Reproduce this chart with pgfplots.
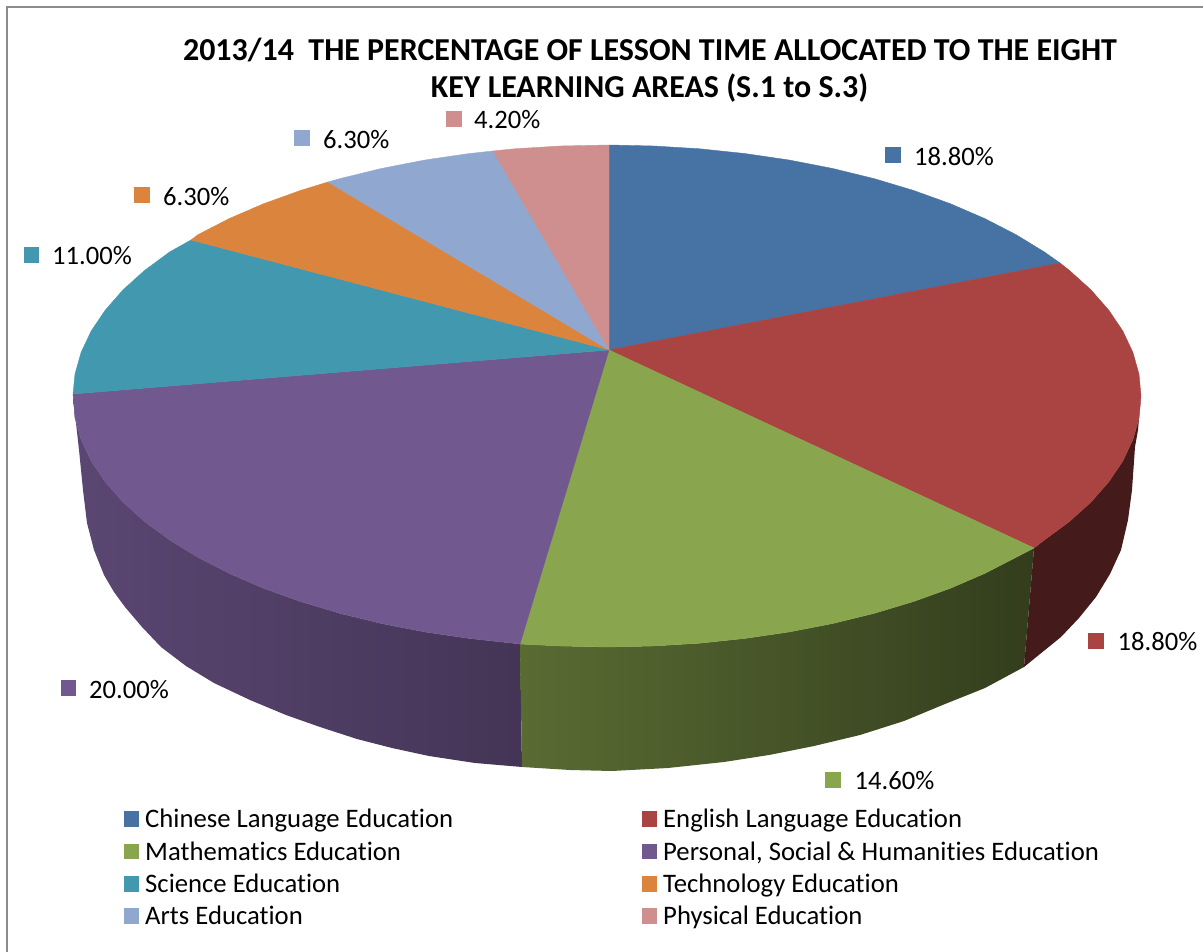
\documentclass[border=0pt]{standalone}
\usepackage{pgfplots}
\pgfplotsset{compat=1.18}
\usepackage{fontspec}
\setmainfont[Ligatures=NoCommon]{Carlito}

\definecolor{cblue}{HTML}{4672A4}
\definecolor{cred}{HTML}{A94442}
\definecolor{cgreen}{HTML}{89A54E}
\definecolor{cpurple}{HTML}{71588F}
\definecolor{cteal}{HTML}{4198AF}
\definecolor{corange}{HTML}{DB843D}
\definecolor{carts}{HTML}{90A8CF}
\definecolor{cpink}{HTML}{CF8F8E}

\newcommand{\slicefont}{\fontsize{26.6}{26.6}\selectfont}
\newcommand{\legfont}{\fontsize{26.7}{26.7}\selectfont}

\pgfplotsset{
	slice/.style={draw=#1,fill=#1,line width=0.4pt},
	swatch/.style={only marks,color=#1,mark=square*,mark size=7.2pt,mark options={solid,line width=0pt,draw=#1,fill=#1}},
}

\begin{document}
\begin{tikzpicture}
	\begin{axis}[
		scale only axis,
		width=1203pt,height=952pt,
		xmin=0,xmax=1203,
		ymin=0,ymax=952,
		y dir=reverse,
		hide axis,
		clip=true,
		]

		% frame
		\addplot[color=black!45,line width=2pt] coordinates {(7,952) (7,7) (1203,7)};

		% sides of the pie
		\addplot[draw=none,left color=cpurple!80!black,right color=cpurple!60!black] coordinates {
			(73,396) (75,417.9) (81.1,439.6) (91.2,461) (105.2,481.8) (123,502.1) (144.5,521.5) (169.6,540) (197.9,557.3) (229.4,573.5) (263.7,588.3) (300.7,601.6) (340,613.4) (381.3,623.5) (424.4,631.9) (468.8,638.4) (520,644)
			(522,767) (475,763) (429,756) (392,748) (357,739) (320,727) (286,715) (250,700) (214,683) (186,666) (161,647) (142,627) (125,607) (114,592) (104,575) (94,550) (87,523) (83,490) (79,450)
		} --cycle;
		\addplot[draw=none,left color=cgreen!65!black,middle color=cgreen!37!black,right color=cgreen!37!black] coordinates {
			(520,644) (560.4,646) (607,647) (653.6,646) (699.7,643.2) (745.2,638.4) (789.6,631.9) (832.7,623.5) (874,613.4) (913.3,601.6) (950.3,588.3) (984.6,573.5) (1016.1,557.3) (1034,548)
			(1024,667) (985,688) (945,704) (904,721) (860,735) (814,746) (769,755) (724,762) (668,768) (612,771) (570,770) (522,767)
		} --cycle;
		\addplot[draw=none,fill=cred!40!black] coordinates {
			(1034,548) (1044.4,540) (1069.5,521.5) (1091,502.1) (1108.8,481.8) (1122.8,461) (1132.9,439.6) (1139,417.9) (1141,396)
			(1138,430) (1135,447) (1132,490) (1128,520) (1121,550) (1110,574) (1096,597) (1079,618) (1061,637) (1024,667)
		} --cycle;

		% top of the pie
		\addplot[slice=cblue] coordinates {(609,350) (609,145) (653.6,146) (699.7,148.8) (745.2,153.6) (789.6,160.1) (832.7,168.5) (874,178.6) (913.3,190.4) (950.3,203.7) (984.6,218.5) (1016.1,234.7) (1044.4,252) (1060,263)} --cycle;
		\addplot[slice=cred] coordinates {(609,350) (1060,263) (1069.5,270.5) (1091,289.9) (1108.8,310.2) (1122.8,331) (1132.9,352.4) (1139,374.1) (1141,396) (1139,417.9) (1132.9,439.6) (1122.8,461) (1108.8,481.8) (1091,502.1) (1069.5,521.5) (1044.4,540) (1034,548)} --cycle;
		\addplot[slice=cgreen] coordinates {(609,350) (1034,548) (1016.1,557.3) (984.6,573.5) (950.3,588.3) (913.3,601.6) (874,613.4) (832.7,623.5) (789.6,631.9) (745.2,638.4) (699.7,643.2) (653.6,646) (607,647) (560.4,646) (520,644)} --cycle;
		\addplot[slice=cpurple] coordinates {(609,350) (520,644) (468.8,638.4) (424.4,631.9) (381.3,623.5) (340,613.4) (300.7,601.6) (263.7,588.3) (229.4,573.5) (197.9,557.3) (169.6,540) (144.5,521.5) (123,502.1) (105.2,481.8) (91.2,461) (81.1,439.6) (75,417.9) (73,394)} --cycle;
		\addplot[slice=cteal] coordinates {(609,350) (73,394) (75,374.1) (81.1,352.4) (91.2,331) (105.2,310.2) (123,289.9) (144.5,270.5) (169.6,252) (191,240)} --cycle;
		\addplot[slice=corange] coordinates {(609,350) (191,240) (197.9,234.7) (229.4,218.5) (263.7,203.7) (300.7,190.4) (328,182)} --cycle;
		\addplot[slice=carts] coordinates {(609,350) (328,182) (340,178.6) (381.3,168.5) (424.4,160.1) (468.8,153.6) (493,151)} --cycle;
		\addplot[slice=cpink] coordinates {(609,350) (493,151) (514.3,148.8) (560.4,146) (609,145)} --cycle;

		% data label keys
		\addplot[swatch=cblue] coordinates {(893,155)};
		\addplot[swatch=cred] coordinates {(1096,641)};
		\addplot[swatch=cgreen] coordinates {(833,780)};
		\addplot[swatch=cpurple] coordinates {(68.6,688)};
		\addplot[swatch=cteal] coordinates {(31.6,255)};
		\addplot[swatch=corange] coordinates {(142,195)};
		\addplot[swatch=carts] coordinates {(302,138)};
		\addplot[swatch=cpink] coordinates {(454,119)};

		% legend keys
		\addplot[swatch=cblue] coordinates {(131.6,819)};
		\addplot[swatch=cred] coordinates {(649.7,819)};
		\addplot[swatch=cgreen] coordinates {(131.6,851.7)};
		\addplot[swatch=cpurple] coordinates {(649.7,851.7)};
		\addplot[swatch=cteal] coordinates {(131.6,884)};
		\addplot[swatch=corange] coordinates {(649.7,884)};
		\addplot[swatch=carts] coordinates {(131.6,916)};
		\addplot[swatch=cpink] coordinates {(649.7,916)};

		% title
		\node[inner sep=0pt,font=\fontsize{31.95}{31.95}\selectfont\bfseries] at (axis cs:650,50) {2013/14\ \ THE PERCENTAGE OF LESSON TIME ALLOCATED TO THE EIGHT};
		\node[inner sep=0pt,font=\fontsize{31.95}{31.95}\selectfont\bfseries] at (axis cs:649.5,88) {KEY LEARNING AREAS (S.1 to S.3)};

		% data labels
		\node[anchor=west,inner sep=0pt,font=\slicefont] at (axis cs:914,157) {18.80\%};
		\node[anchor=west,inner sep=0pt,font=\slicefont] at (axis cs:1117.5,642) {18.80\%};
		\node[anchor=west,inner sep=0pt,font=\slicefont] at (axis cs:854.5,781) {14.60\%};
		\node[anchor=west,inner sep=0pt,font=\slicefont] at (axis cs:89,690) {20.00\%};
		\node[anchor=west,inner sep=0pt,font=\slicefont] at (axis cs:52,256) {11.00\%};
		\node[anchor=west,inner sep=0pt,font=\slicefont] at (axis cs:163,197) {6.30\%};
		\node[anchor=west,inner sep=0pt,font=\slicefont] at (axis cs:323,140) {6.30\%};
		\node[anchor=west,inner sep=0pt,font=\slicefont] at (axis cs:474,120) {4.20\%};

		% legend text
		\node[anchor=base west,inner sep=0pt,font=\legfont] at (axis cs:145,827) {Chinese Language Education};
		\node[anchor=base west,inner sep=0pt,font=\legfont] at (axis cs:663,827) {English Language Education};
		\node[anchor=base west,inner sep=0pt,font=\legfont] at (axis cs:145,860) {Mathematics Education};
		\node[anchor=base west,inner sep=0pt,font=\legfont] at (axis cs:663,860) {Personal, Social \& Humanities Education};
		\node[anchor=base west,inner sep=0pt,font=\legfont] at (axis cs:145,892) {Science Education};
		\node[anchor=base west,inner sep=0pt,font=\legfont] at (axis cs:663,892) {Technology Education};
		\node[anchor=base west,inner sep=0pt,font=\legfont] at (axis cs:145,924) {Arts Education};
		\node[anchor=base west,inner sep=0pt,font=\legfont] at (axis cs:663,924) {Physical Education};
	\end{axis}
	\pgfresetboundingbox
	\path[use as bounding box] (0,0) rectangle (1203pt,952pt);
\end{tikzpicture}
\end{document}
